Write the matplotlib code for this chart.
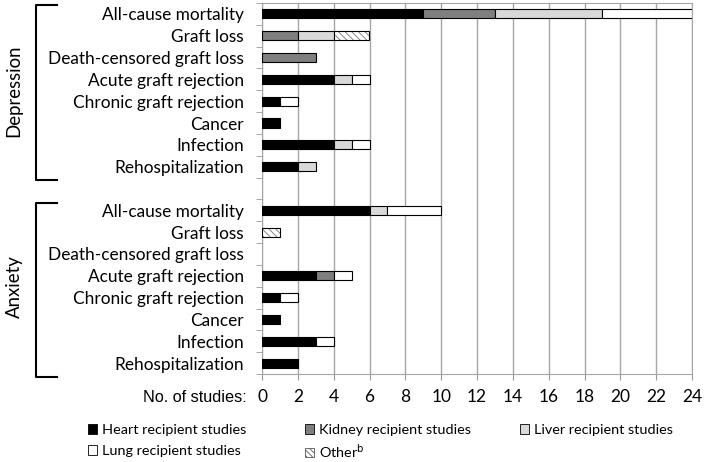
import matplotlib
matplotlib.use("Agg")
import matplotlib.pyplot as plt
from matplotlib.patches import Patch
from matplotlib.lines import Line2D
from matplotlib import transforms
import numpy as np

plt.rcParams['font.family'] = ['Lato', 'DejaVu Sans']
plt.rcParams['hatch.linewidth'] = 0.6

# outcome rows (same for both groups)
outcomes = ["All-cause mortality", "Graft loss", "Death-censored graft loss",
            "Acute graft rejection", "Chronic graft rejection", "Cancer",
            "Infection", "Rehospitalization"]
groups = ["Depression", "Anxiety"]

# number of studies per organ type
heart_dep = [9, 0, 0, 4, 1, 1, 4, 2]
kidney_dep = [4, 2, 3, 0, 0, 0, 0, 0]
liver_dep = [6, 2, 0, 1, 0, 0, 1, 1]
lung_dep = [5, 0, 0, 1, 1, 0, 1, 0]
other_dep = [0, 2, 0, 0, 0, 0, 0, 0]

heart_anx = [6, 0, 0, 3, 1, 1, 3, 2]
kidney_anx = [0, 0, 0, 1, 0, 0, 0, 0]
liver_anx = [1, 0, 0, 0, 0, 0, 0, 0]
lung_anx = [3, 0, 0, 1, 1, 0, 1, 0]
other_anx = [0, 1, 0, 0, 0, 0, 0, 0]

series_names = ["Heart recipient studies", "Kidney recipient studies",
                "Liver recipient studies", "Lung recipient studies", "Other$^{\\mathrm{b}}$"]
series_colors = ["#000000", "#7f7f7f", "#d9d9d9", "#ffffff", "#ffffff"]

x_ticks = list(range(0, 25, 2))

# rows: 8 depression, one empty, 8 anxiety
dep_rows = np.arange(8)
anx_rows = np.arange(9, 17)
ypos = np.concatenate([dep_rows, anx_rows])
series = [np.array(heart_dep + heart_anx), np.array(kidney_dep + kidney_anx),
          np.array(liver_dep + liver_anx), np.array(lung_dep + lung_anx),
          np.array(other_dep + other_anx)]

fig = plt.figure(figsize=(7.05, 4.62), dpi=100)
ax = fig.add_axes([262 / 705, 88 / 462, 430 / 705, 371 / 462])

bar_h = 0.42
left = np.zeros(len(ypos))
for i, vals in enumerate(series):
    m = vals > 0
    if i == 4:
        # hatch in grey, outline in black on top
        ax.barh(ypos[m], vals[m], left=left[m], height=bar_h, color="white",
                edgecolor="#777777", linewidth=0, hatch="\\\\\\\\\\", zorder=3)
        ax.barh(ypos[m], vals[m], left=left[m], height=bar_h, fill=False,
                edgecolor="black", linewidth=0.8, zorder=4)
    else:
        ax.barh(ypos[m], vals[m], left=left[m], height=bar_h, color=series_colors[i],
                edgecolor="black", linewidth=0.8, zorder=3)
    left = left + vals

ax.set_xlim(0, 24)
ax.set_ylim(16.5, -0.5)
ax.set_xticks(x_ticks)
ax.set_yticks(ypos)
ax.set_yticklabels(outcomes + outcomes, fontsize=12.4)
ax.set_yticks(np.arange(-0.5, 17, 1), minor=True)
ax.tick_params(axis='y', which='major', length=0, pad=13)
ax.tick_params(axis='y', which='minor', length=4, color="#999999", direction='out')
ax.tick_params(axis='x', length=4, color="#999999", labelsize=12.5, pad=7)
ax.xaxis.grid(True, color="#a6a6a6", linewidth=1, zorder=0)
ax.set_axisbelow(True)
for s in ax.spines.values():
    s.set_color("#a6a6a6")

fig.text(247 / 705, 1 - 398 / 462, "No. of studies:", ha="right", va="center",
         fontsize=11.7, family="Liberation Sans")

# group brackets
tr = transforms.blended_transform_factory(fig.transFigure, ax.transData)
brackets = [(-0.41, 7.62, 3.5), (8.67, 16.66, 12.5)]
for (y0, y1, yc), name in zip(brackets, groups):
    x0 = 36 / 705
    x1 = 57 / 705
    fig.add_artist(Line2D([x1, x0, x0, x1], [y0, y0, y1, y1], transform=tr,
                          color="black", linewidth=1.5))
    fig.text(14 / 705, yc, name, transform=tr, rotation=90, ha="center",
             va="center", fontsize=13.4)

# legend: one entry each, placed like the original (two rows, three columns)
handles = [Patch(facecolor=series_colors[i], edgecolor="black", linewidth=0.6,
                 label=series_names[i]) for i in range(4)]
handles.append(Patch(facecolor="white", edgecolor="#555555", hatch="\\\\\\\\\\\\",
                     linewidth=0.6, label=series_names[4]))
leg_pos = [(88, 430), (305, 430), (520, 430), (88, 451), (305, 451)]
for h, (px, py) in zip(handles, leg_pos):
    fig.legend(handles=[h], loc="center left", bbox_to_anchor=(px / 705, 1 - py / 462),
               frameon=False, fontsize=10.4, handlelength=0.65, handleheight=0.65,
               handletextpad=0.35, borderpad=0, borderaxespad=0)

fig.savefig("out.png", dpi=100)
